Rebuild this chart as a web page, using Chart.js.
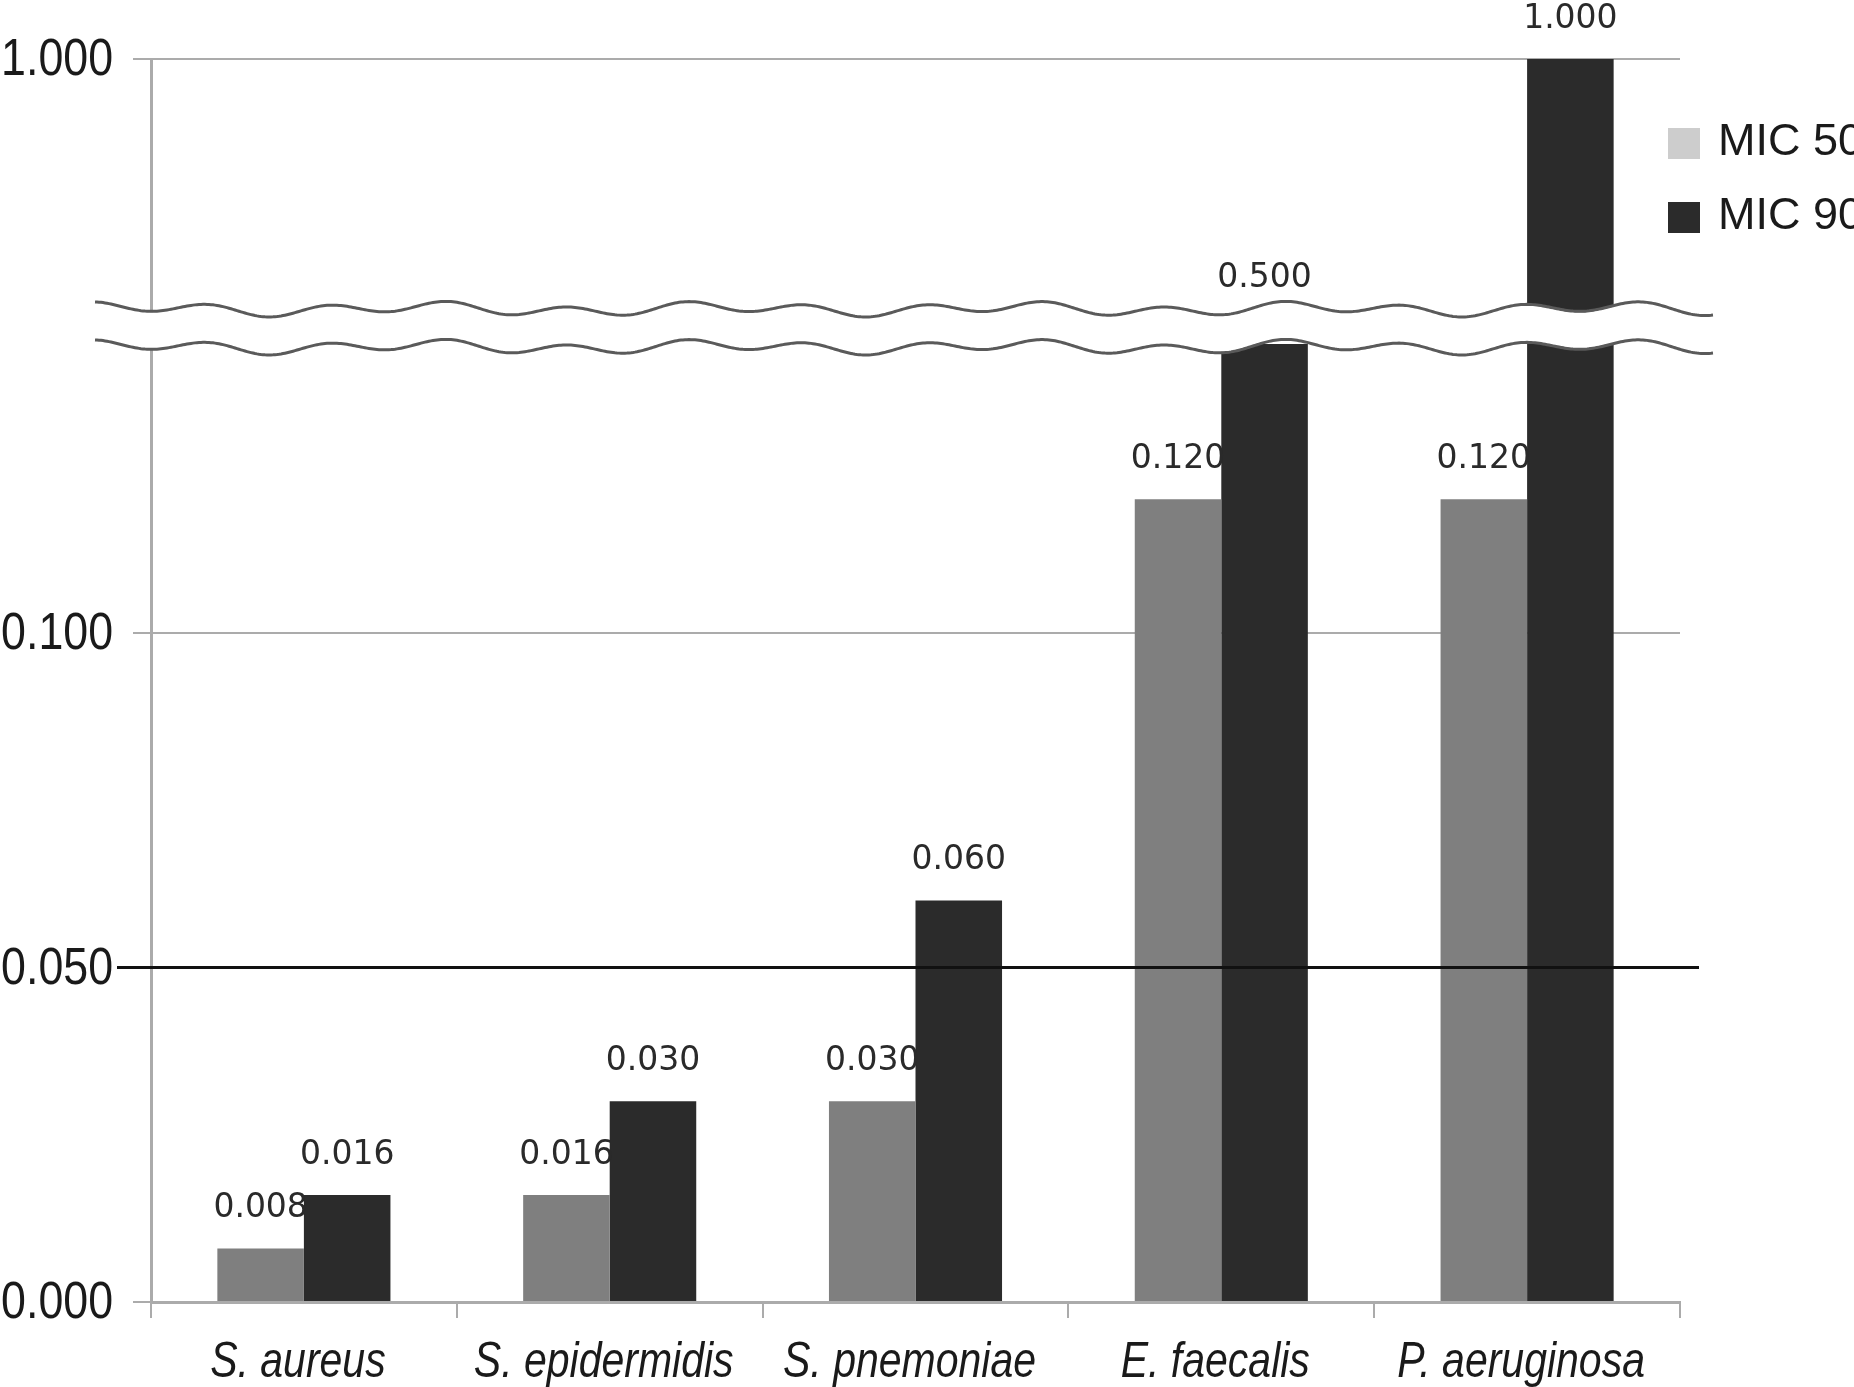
<!DOCTYPE html>
<html>
<head>
<meta charset="utf-8">
<script src="https://cdn.jsdelivr.net/npm/chart.js@4.4.0/dist/chart.umd.min.js"></script>
<style>
  body { margin: 0; background: #fff; }
  #wrap { position: relative; width: 1854px; height: 1387px; overflow: hidden; }
  canvas { position: absolute; left: 0; top: 0; }
</style>
</head>
<body>
<div id="wrap">
  <canvas id="top" width="1854" height="1387"></canvas>
  <canvas id="bottom" width="1854" height="1387"></canvas>
</div>
<script>
var categories = ['S. aureus', 'S. epidermidis', 'S. pnemoniae', 'E. faecalis', 'P. aeruginosa'];
var mic50 = [0.008, 0.016, 0.030, 0.120, 0.120];
var mic90 = [0.016, 0.030, 0.060, 0.500, 1.000];
var seriesNames = ['MIC 50', 'MIC 90'];
var lowTicks = [0, 0.05, 0.1];
var highTicks = [1];
var lowRange = [0, 0.1432];
var highRange = [0.5, 1.0];
var cutoff = 0.05;

var sans = '"Liberation Sans", Arial, sans-serif';
var barColors = ['#7f7f7f', '#2b2b2b'];
var legendColors = ['#cdcdcd', '#2b2b2b'];
var gridGray = '#ababab';
var squeeze = 0.86; // the original uses a narrow font, so squash the axis text

function makeData() {
    return {
        labels: categories,
        datasets: [
            { label: seriesNames[0], data: mic50, backgroundColor: barColors[0], borderWidth: 0, categoryPercentage: 0.566, barPercentage: 1 },
            { label: seriesNames[1], data: mic90, backgroundColor: barColors[1], borderWidth: 0, categoryPercentage: 0.566, barPercentage: 1 }
        ]
    };
}

// value labels, drawn right after each dataset so the next bars cover them a bit
var valueLabels = {
    id: 'valueLabels',
    afterDatasetDraw: function(chart, args) {
        var y = chart.scales.y;
        var ctx = chart.ctx;
        var meta = chart.getDatasetMeta(args.index);
        var data = chart.data.datasets[args.index].data;
        ctx.save();
        ctx.font = '33px "DejaVu Sans", sans-serif';
        ctx.fillStyle = '#2a2a2a';
        ctx.textAlign = 'center';
        ctx.textBaseline = 'middle';
        meta.data.forEach(function(el, i) {
            var v = data[i];
            if (v < y.min - 1e-9 || v > y.max + 1e-9) return;
            ctx.fillText(v.toFixed(3), el.x, y.getPixelForValue(v) - 40);
        });
        ctx.restore();
    }
};

// axis labels in a condensed look
var narrowLabels = {
    id: 'narrowLabels',
    afterDraw: function(chart) {
        var ctx = chart.ctx;
        var y = chart.scales.y;
        var x = chart.scales.x;
        ctx.save();
        ctx.fillStyle = '#1a1a1a';
        ctx.textBaseline = 'middle';
        ctx.font = '52px ' + sans;
        ctx.textAlign = 'right';
        y.ticks.forEach(function(t) {
            ctx.save();
            ctx.translate(y.right - 38, y.getPixelForValue(t.value) + 2);
            ctx.scale(squeeze, 1);
            ctx.fillText(t.value.toFixed(3), 0, 0);
            ctx.restore();
        });
        if (x.options.display) {
            ctx.font = 'italic 50px ' + sans;
            ctx.textAlign = 'center';
            chart.data.labels.forEach(function(lab, i) {
                ctx.save();
                ctx.translate(x.getPixelForTick(i) - 6, x.top + 61);
                ctx.scale(0.82, 1);
                ctx.fillText(lab, 0, 0);
                ctx.restore();
            });
        }
        ctx.restore();
    }
};

var legendDraw = {
    id: 'legendDraw',
    afterDraw: function(chart) {
        var ctx = chart.ctx;
        ctx.save();
        ctx.font = '45px ' + sans;
        ctx.textBaseline = 'middle';
        chart.data.datasets.forEach(function(ds, i) {
            var cy = 143 + i * 74;
            ctx.fillStyle = legendColors[i];
            ctx.fillRect(1668, cy - 15, 32, 31);
            ctx.fillStyle = '#1a1a1a';
            ctx.fillText(ds.label, 1718, cy);
        });
        ctx.restore();
    }
};

var cutoffLine = {
    id: 'cutoffLine',
    afterDatasetsDraw: function(chart) {
        var ctx = chart.ctx;
        var py = chart.scales.y.getPixelForValue(cutoff);
        ctx.save();
        ctx.strokeStyle = '#111';
        ctx.lineWidth = 3;
        ctx.beginPath();
        ctx.moveTo(117, py);
        ctx.lineTo(chart.chartArea.right + 19, py);
        ctx.stroke();
        ctx.restore();
    }
};

function wave(x) {
    return 5 * Math.sin(x / 19) + 3 * Math.sin(x / 47 + 2);
}

// the axis break, two wavy lines with white between
var axisBreak = {
    id: 'axisBreak',
    afterDraw: function(chart) {
        var ctx = chart.ctx;
        var y2 = chart.chartArea.top + 3;
        var y1 = y2 - 38;
        var x0 = 95, x1 = chart.chartArea.right + 33;
        var x;
        ctx.save();
        ctx.fillStyle = '#fff';
        ctx.beginPath();
        for (x = x0; x <= x1; x += 2) ctx.lineTo(x, y1 + wave(x) + 1);
        for (x = x1; x >= x0; x -= 2) ctx.lineTo(x, y2 + wave(x) - 1);
        ctx.closePath();
        ctx.fill();
        ctx.strokeStyle = '#5a5a5a';
        ctx.lineWidth = 3;
        [y1, y2].forEach(function(yy) {
            ctx.beginPath();
            for (x = x0; x <= x1; x += 2) ctx.lineTo(x, yy + wave(x));
            ctx.stroke();
        });
        ctx.restore();
    }
};

// upper part: 0.5 .. 1.0
new Chart(document.getElementById('top'), {
    type: 'bar',
    data: makeData(),
    plugins: [valueLabels, legendDraw, narrowLabels],
    options: {
        responsive: false,
        animation: false,
        layout: { padding: { left: 0, right: 174, top: 59, bottom: 1069 } },
        plugins: { legend: { display: false }, tooltip: { enabled: false } },
        scales: {
            x: { display: false },
            y: {
                min: highRange[0],
                max: highRange[1],
                afterBuildTicks: function(s) { s.ticks = highTicks.map(function(v) { return { value: v }; }); },
                afterFit: function(s) { s.width = 151; },
                ticks: { display: false },
                grid: { color: gridGray, lineWidth: 2, tickLength: 18 },
                border: { display: true, color: gridGray, width: 3 }
            }
        }
    }
});

// lower part: 0 .. ~0.14
new Chart(document.getElementById('bottom'), {
    type: 'bar',
    data: makeData(),
    plugins: [valueLabels, cutoffLine, axisBreak, narrowLabels],
    options: {
        responsive: false,
        animation: false,
        layout: { padding: { left: 0, right: 174, top: 344, bottom: 0 } },
        plugins: { legend: { display: false }, tooltip: { enabled: false } },
        scales: {
            x: {
                afterFit: function(s) { s.height = 85; },
                ticks: { display: false },
                grid: { drawOnChartArea: false, color: gridGray, lineWidth: 2, tickLength: 16 },
                border: { display: true, color: gridGray, width: 3 }
            },
            y: {
                min: lowRange[0],
                max: lowRange[1],
                afterBuildTicks: function(s) { s.ticks = lowTicks.map(function(v) { return { value: v }; }); },
                afterFit: function(s) { s.width = 151; },
                ticks: { display: false },
                grid: { color: function(c) { return c.tick && c.tick.value === cutoff ? '#111' : gridGray; }, lineWidth: 2, tickLength: 18 },
                border: { display: true, color: gridGray, width: 3 }
            }
        }
    }
});
</script>
</body>
</html>
